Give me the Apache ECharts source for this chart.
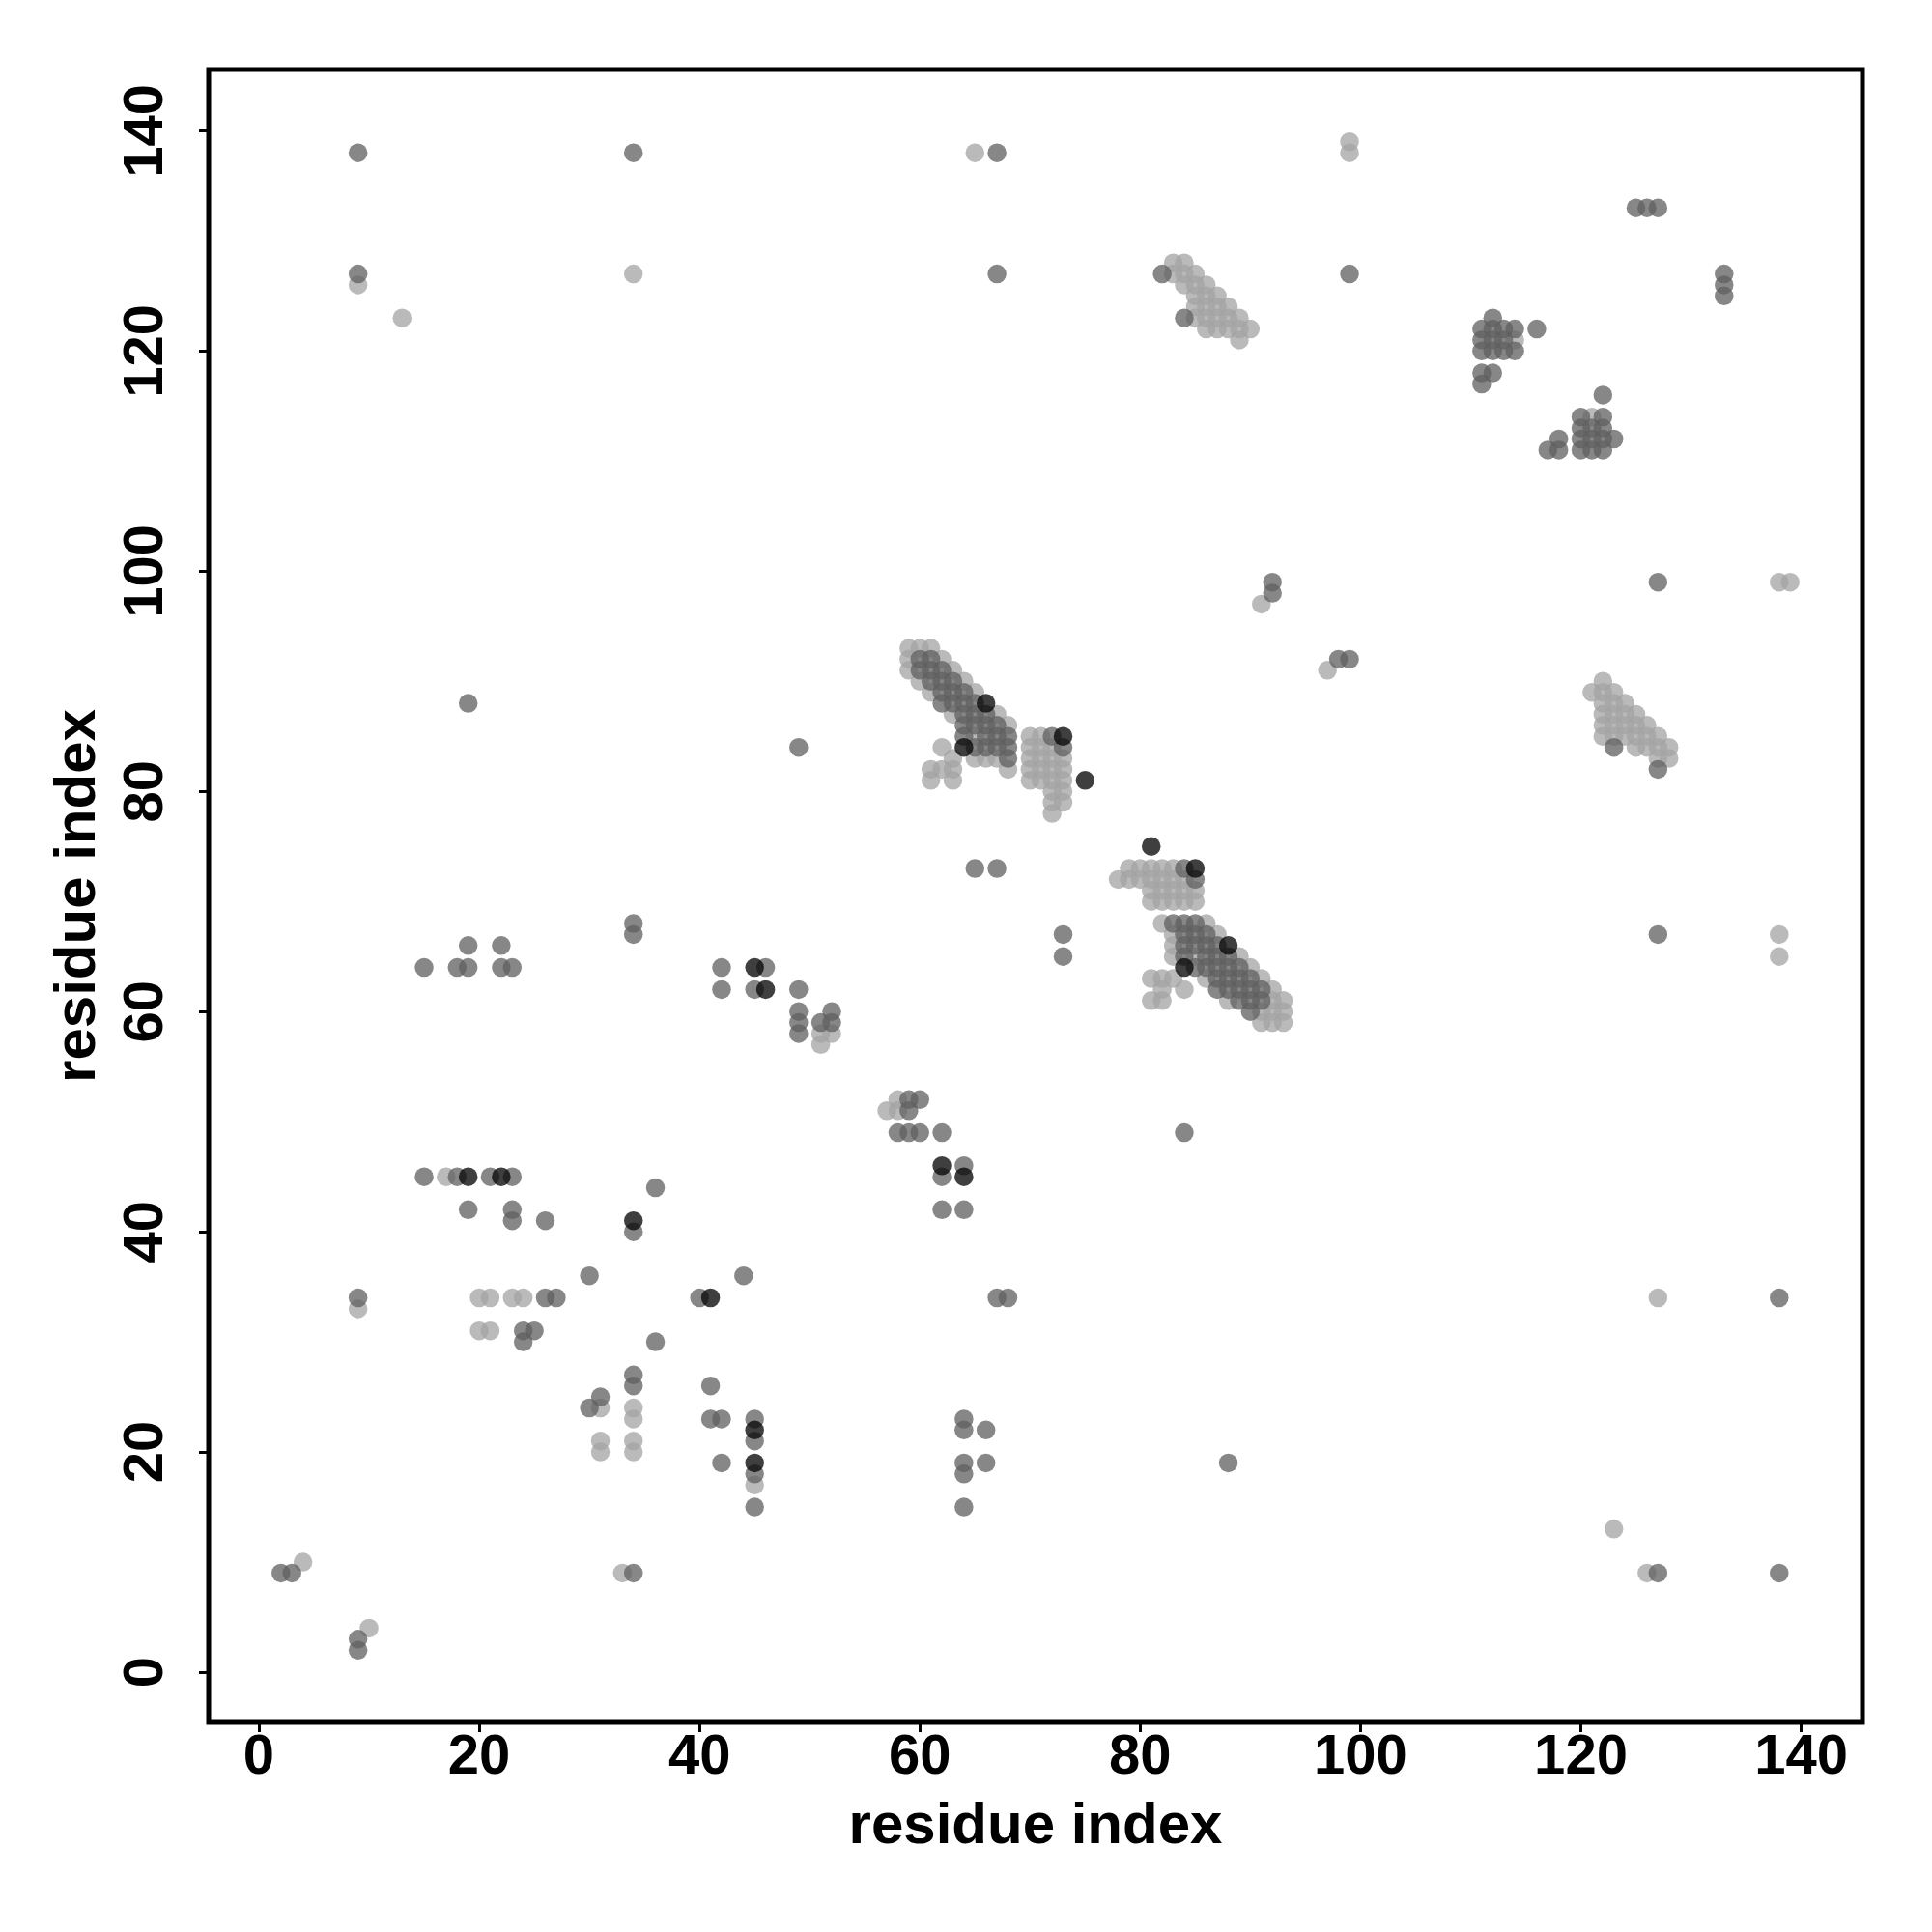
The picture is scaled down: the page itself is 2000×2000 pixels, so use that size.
<!DOCTYPE html>
<html>
<head>
<meta charset="utf-8">
<script src="https://cdn.jsdelivr.net/npm/echarts@6/dist/echarts.min.js"></script>
<style>
html,body{margin:0;padding:0;background:#fff;}
#chart{width:2000px;height:2000px;}
</style>
</head>
<body>
<div id="chart"></div>
<script>
// axis ticks
const tickValues = [0, 20, 40, 60, 80, 100, 120, 140];
const axisMin = -4.56;
const axisMax = 145.56;

// light gray contacts [x, y]
const lightPoints = [
  [65,138],[99,139],[99,138],[9,126],[13,123],[34,127],[91,97],[97,91],[138,99],[139,99],
  [138,67],[138,65],[123,13],[126,9],[127,34],[4,10],[10,4],[9,33],[33,9],[17,45],
  [20,34],[21,34],[23,34],[24,34],[20,31],[21,31],[31,24],[31,21],[31,20],[34,24],[34,23],
  [34,21],[34,20],[45,17],[51,58],[51,57],[52,58],[57,51],[58,52],[58,51],[114,121],[121,114],
  // cluster near (83-90, 121-128)
  [83,128],[84,128],[83,127],[84,127],[85,127],[84,126],[85,126],[86,126],[85,125],[86,125],[87,125],
  [85,124],[86,124],[87,124],[88,124],[85,123],[86,123],[87,123],[88,123],[89,123],
  [86,122],[87,122],[88,122],[89,122],[90,122],[89,121],
  // cluster near (59-75, 78-93)
  [59,93],[60,93],[61,93],[59,92],[62,92],[59,91],[63,91],[60,90],[64,90],[61,89],[65,89],
  [63,87],[67,87],[68,86],[65,85],[65,83],[66,83],[67,83],[68,82],
  [62,84],[63,83],[61,82],[62,82],[63,82],[61,81],[63,81],
  [70,85],[71,85],[70,84],[71,84],[72,84],[70,83],[71,83],[72,83],[73,83],
  [70,82],[71,82],[72,82],[73,82],[70,81],[71,81],[72,81],[73,81],[72,80],[73,80],[72,79],[73,79],[72,78],
  // cluster near (78-93, 59-73)
  [79,73],[80,73],[81,73],[82,73],[83,73],
  [78,72],[79,72],[80,72],[81,72],[82,72],[83,72],[84,72],
  [81,71],[82,71],[83,71],[84,71],[85,71],[81,70],[82,70],[83,70],[84,70],[85,70],
  [82,68],[86,68],[83,67],[87,67],[83,66],[83,65],[85,65],[89,65],[90,64],[86,63],[91,63],[92,62],
  [88,61],[92,61],[93,61],[91,60],[92,60],[93,60],[91,59],[92,59],[93,59],
  [81,63],[82,63],[83,63],[82,62],[84,62],[81,61],[82,61],
  // cluster near (121-128, 83-90)
  [122,90],[121,89],[122,89],[123,89],[122,88],[123,88],[124,88],[122,87],[123,87],[124,87],[125,87],
  [122,86],[123,86],[124,86],[125,86],[126,86],[122,85],[123,85],[124,85],[125,85],[126,85],[127,85],
  [125,84],[126,84],[127,84],[128,84],[127,83],[128,83]
];

// dark gray contacts [x, y]
const darkPoints = [
  [9,138],[34,138],[67,138],[125,133],[126,133],[127,133],[133,127],[133,126],[133,125],
  [9,127],[67,127],[99,127],[82,127],[84,123],
  [92,99],[92,98],[98,92],[99,92],[127,99],[19,88],[49,84],[127,67],[65,73],[67,73],
  [73,67],[73,65],[84,49],[88,19],[127,9],[138,9],[138,34],[2,9],[3,9],[9,3],[9,2],[9,34],[34,9],
  [15,64],[18,64],[19,64],[19,66],[22,66],[22,64],[23,64],[34,68],[34,67],[42,64],[42,62],
  [46,64],[45,62],[49,62],[49,60],[49,59],[49,58],[51,59],[52,60],[52,59],
  [15,45],[18,45],[21,45],[23,45],[36,44],[19,42],[23,42],[23,41],[26,41],[34,40],[30,36],[44,36],
  [26,34],[27,34],[40,34],[24,31],[25,31],[24,30],[36,30],[34,27],[34,26],[41,26],[31,25],[30,24],
  [41,23],[42,23],[45,23],[45,21],[42,19],[45,18],[45,15],
  [59,52],[59,51],[60,52],[58,49],[59,49],[60,49],[62,49],[62,45],[64,46],[62,42],[64,42],
  [67,34],[68,34],[64,23],[64,22],[66,22],[64,19],[64,18],[66,19],[64,15],
  // cluster near (59-75, 78-93)
  [60,92],[61,92],[60,91],[61,91],[62,91],[61,90],[62,90],[63,90],[62,89],[63,89],[64,89],
  [62,88],[63,88],[64,88],[65,88],[64,87],[65,87],[66,87],[64,86],[65,86],[66,86],[67,86],
  [64,85],[66,85],[67,85],[68,85],[65,84],[66,84],[67,84],[68,84],[68,83],[72,85],[73,84],
  // cluster near (78-93, 59-73)
  [84,73],[85,72],
  [83,68],[84,68],[85,68],[84,67],[85,67],[86,67],[84,66],[85,66],[86,66],[87,66],
  [84,65],[86,65],[87,65],[88,65],[85,64],[86,64],[87,64],[88,64],[89,64],
  [87,63],[88,63],[89,63],[90,63],[87,62],[88,62],[89,62],[90,62],[91,62],
  [89,61],[90,61],[91,61],[90,60],
  // cluster near (111-123, 111-123)
  [112,123],[111,122],[112,122],[113,122],[114,122],[116,122],[111,121],[112,121],[113,121],
  [111,120],[112,120],[113,120],[114,120],[111,118],[112,118],[111,117],
  [122,116],[120,114],[122,114],[120,113],[121,113],[122,113],[120,112],[121,112],[122,112],[123,112],
  [120,111],[121,111],[122,111],[118,112],[117,111],[118,111],
  [123,84],[127,82]
];

// black contacts [x, y]
const blackPoints = [
  [66,88],[64,84],[73,85],[75,81],[81,75],[85,73],[88,66],[84,64],[45,64],[46,62],
  [19,45],[22,45],[34,41],[41,34],[45,22],[45,19],[62,46],[64,45]
];

const FONT = '"Liberation Sans", Arial, Helvetica, sans-serif';

const chart = echarts.init(document.getElementById('chart'), null, {renderer: 'canvas'});

function makeAxis(isX) {
  return {
    type: 'value',
    min: axisMin,
    max: axisMax,
    name: 'residue index',
    nameLocation: 'middle',
    nameGap: isX ? 78 : 105,
    nameTextStyle: {fontFamily: FONT, fontWeight: 'bold', fontSize: 60, color: '#000'},
    axisLine: {show: false, onZero: false},
    axisTick: {show: true, inside: false, length: 10, customValues: tickValues,
      lineStyle: {color: '#000', width: 3}},
    axisLabel: {show: true, customValues: tickValues, margin: isX ? 8 : 35,
      rotate: isX ? 0 : 90,
      fontFamily: FONT, fontWeight: 'bold', fontSize: 58, color: '#000',
      showMinLabel: true, showMaxLabel: true, hideOverlap: false},
    splitLine: {show: false}
  };
}

chart.setOption({
  animation: false,
  backgroundColor: '#ffffff',
  grid: {
    left: 216, top: 72, width: 1712, height: 1711,
    containLabel: false,
    outerBoundsMode: 'none',
    show: true, borderColor: '#000', borderWidth: 5, backgroundColor: 'transparent'
  },
  xAxis: makeAxis(true),
  yAxis: makeAxis(false),
  series: [
    {type: 'scatter', data: lightPoints, symbol: 'circle', symbolSize: 19.5,
      itemStyle: {color: 'rgba(164,164,164,0.94)'}, emphasis: {disabled: true}, z: 2},
    {type: 'scatter', data: darkPoints, symbol: 'circle', symbolSize: 19.5,
      itemStyle: {color: 'rgba(96,96,96,0.94)'}, emphasis: {disabled: true}, z: 3},
    {type: 'scatter', data: blackPoints, symbol: 'circle', symbolSize: 19.5,
      itemStyle: {color: 'rgba(8,8,8,0.97)'}, emphasis: {disabled: true}, z: 4}
  ]
});
</script>
</body>
</html>
